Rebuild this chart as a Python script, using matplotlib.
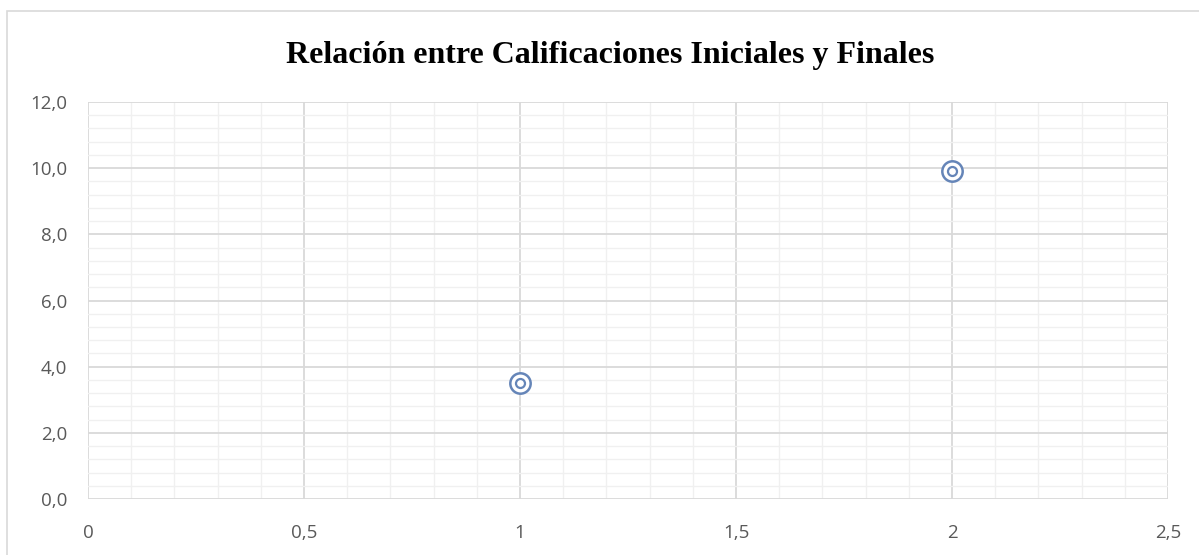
import matplotlib
matplotlib.use("Agg")
import matplotlib.pyplot as plt
from matplotlib.ticker import MultipleLocator, FuncFormatter
from matplotlib.patches import Rectangle

# Datos
inicial = [1, 2]
final = [3.5, 9.9]
titulo = "Relación entre Calificaciones Iniciales y Finales"

color_punto = "#6585b8"
gris_mayor = "#d9d9d9"
gris_menor = "#f0f0f0"
gris_texto = "#595959"

fig = plt.figure(figsize=(11.99, 5.55), dpi=100)
ax = fig.add_axes([88 / 1199, 1 - 499 / 555, (1168 - 88) / 1199, (499 - 102) / 555])

# Marcadores de doble círculo
ax.scatter(inicial, final, s=215, facecolors="white", edgecolors=color_punto,
           linewidths=1.8, zorder=3)
ax.scatter(inicial, final, s=42, facecolors="white", edgecolors=color_punto,
           linewidths=1.6, zorder=4)

ax.set_xlim(0, 2.5)
ax.set_ylim(0, 12)
ax.xaxis.set_major_locator(MultipleLocator(0.5))
ax.xaxis.set_minor_locator(MultipleLocator(0.1))
ax.yaxis.set_major_locator(MultipleLocator(2))
ax.yaxis.set_minor_locator(MultipleLocator(0.4))

ax.xaxis.set_major_formatter(FuncFormatter(lambda v, p: ("%g" % v).replace(".", ",")))
ax.yaxis.set_major_formatter(FuncFormatter(lambda v, p: ("%.1f" % v).replace(".", ",")))

ax.grid(which="minor", color=gris_menor, linewidth=1.0, zorder=0)
ax.grid(which="major", color=gris_mayor, linewidth=1.3, zorder=1)
ax.set_axisbelow(True)
for s in ax.spines.values():
    s.set_visible(False)
ax.tick_params(which="both", length=0, labelsize=13.5, labelcolor=gris_texto,
               labelfontfamily="Open Sans")
ax.tick_params(axis="x", pad=18)
ax.tick_params(axis="y", pad=15)

fig.text(610 / 1199, 1 - 56 / 555, titulo, ha="center", va="center",
         fontsize=23, fontweight="bold", family="Liberation Serif", color="black")

# Borde del gráfico
fig.patches.append(Rectangle((7 / 1199, -0.05), 1.1, 1 - 11 / 555 + 0.05,
                             transform=fig.transFigure, fill=False,
                             edgecolor=gris_mayor, linewidth=1.2))

fig.savefig("out.png", dpi=100)
